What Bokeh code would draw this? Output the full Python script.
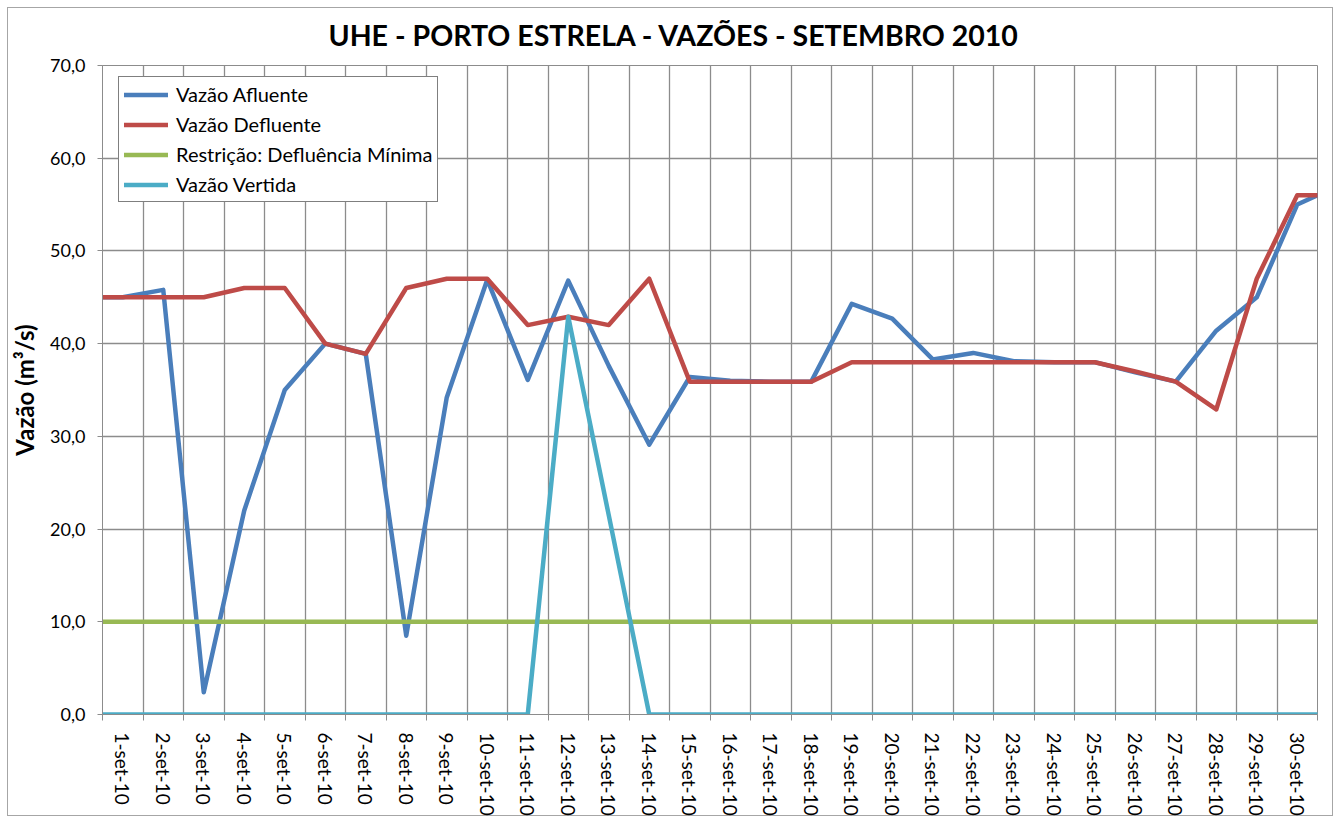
from bokeh.plotting import figure
from bokeh.models import Range1d, FixedTicker, Legend, LegendItem
from bokeh.embed import file_html
from bokeh.resources import INLINE

# ---- data ----
dias = ["1-set-10", "2-set-10", "3-set-10", "4-set-10", "5-set-10", "6-set-10",
        "7-set-10", "8-set-10", "9-set-10", "10-set-10", "11-set-10", "12-set-10",
        "13-set-10", "14-set-10", "15-set-10", "16-set-10", "17-set-10", "18-set-10",
        "19-set-10", "20-set-10", "21-set-10", "22-set-10", "23-set-10", "24-set-10",
        "25-set-10", "26-set-10", "27-set-10", "28-set-10", "29-set-10", "30-set-10"]

vazao_afluente = [45.0, 45.8, 2.4, 22.0, 35.0, 40.0, 38.9, 8.5, 34.2, 46.9,
                  36.1, 46.8, 37.6, 29.1, 36.4, 36.0, 35.9, 35.9, 44.3, 42.7,
                  38.3, 39.0, 38.1, 38.0, 38.0, 36.9, 35.9, 41.4, 45.0, 55.0]
vazao_defluente = [45.0, 45.0, 45.0, 46.0, 46.0, 40.0, 38.9, 46.0, 47.0, 47.0,
                   42.0, 42.9, 42.0, 47.0, 35.9, 35.9, 35.9, 35.9, 38.0, 38.0,
                   38.0, 38.0, 38.0, 38.0, 38.0, 37.0, 35.9, 32.9, 47.0, 56.0]
defluencia_minima = [10.0] * 30
vazao_vertida = [0.0, 0.0, 0.0, 0.0, 0.0, 0.0, 0.0, 0.0, 0.0, 0.0,
                 0.0, 42.9, 21.5, 0.0, 0.0, 0.0, 0.0, 0.0, 0.0, 0.0,
                 0.0, 0.0, 0.0, 0.0, 0.0, 0.0, 0.0, 0.0, 0.0, 0.0]

# values where each line meets the left / right edge of the plot area
bordas_afluente = [45.0, 56.0]
bordas_defluente = [45.0, 56.0]
bordas_minima = [10.0, 10.0]
bordas_vertida = [0.0, 0.0]

y_ticks = [0, 10, 20, 30, 40, 50, 60, 70]

FONT = "Lato"
GRID = "#8c8c8c"

n = len(dias)
centros = [i + 0.5 for i in range(n)]
limites = list(range(n + 1))
x_full = [0] + centros + [n]

W, H = 1340, 823
p = figure(width=W, height=H, output_backend="svg", toolbar_location=None,
           x_range=Range1d(0, n), y_range=Range1d(0, 70),
           min_border_left=102, min_border_right=23, min_border_top=65,
           min_border_bottom=109)

# outer chart border (drawn 8px inside the figure box, seen through the
# transparent border area of the canvas)
p.border_fill_alpha = 0
p.background_fill_color = "#ffffff"
p.styles = {"outline": "1px solid #a6a6a6", "outline-offset": "-8px",
            "background-color": "#ffffff"}

p.title.text = "UHE - PORTO ESTRELA - VAZÕES - SETEMBRO 2010"
p.title.text_font = FONT
p.title.text_font_size = "28.5px"
p.title.text_font_style = "bold"
p.title.text_color = "#000000"
p.title.align = "left"
p.title.offset = 226
p.title.standoff = 28

p.outline_line_color = GRID

# grids
p.xgrid.ticker = FixedTicker(ticks=limites)
p.ygrid.ticker = FixedTicker(ticks=y_ticks)
for g in (p.xgrid, p.ygrid):
    g.grid_line_color = GRID
    g.grid_line_width = 1.3

# x axis
xa = p.xaxis[0]
xa.ticker = FixedTicker(ticks=centros, minor_ticks=limites)
xa.major_label_overrides = {c: d for c, d in zip(centros, dias)}
xa.major_label_orientation = -1.5707963267948966
xa.major_tick_line_color = None
xa.major_tick_out = 0
xa.major_tick_in = 0
xa.minor_tick_line_color = GRID
xa.minor_tick_out = 6
xa.minor_tick_in = 0
xa.major_label_standoff = 12
xa.major_label_text_font = FONT
xa.major_label_text_font_size = "19px"
xa.major_label_text_color = "#000000"
xa.axis_line_color = GRID

# y axis
ya = p.yaxis[0]
ya.ticker = FixedTicker(ticks=y_ticks)
ya.major_label_overrides = {t: f"{t:.1f}".replace(".", ",") for t in y_ticks}
ya.major_tick_line_color = GRID
ya.major_tick_out = 5
ya.major_tick_in = 0
ya.minor_tick_line_color = None
ya.major_label_standoff = 12
ya.major_label_text_font = FONT
ya.major_label_text_font_size = "18px"
ya.major_label_text_color = "#000000"
ya.axis_line_color = GRID
ya.axis_label = "Vazão (m³/s)"
ya.axis_label_text_font = FONT
ya.axis_label_text_font_size = "24px"
ya.axis_label_text_font_style = "bold"
ya.axis_label_text_color = "#000000"
ya.axis_label_standoff = 8

series = [
    ("Vazão Afluente", vazao_afluente, bordas_afluente, "#4a7ebb"),
    ("Vazão Defluente", vazao_defluente, bordas_defluente, "#be4b48"),
    ("Restrição: Defluência Mínima", defluencia_minima, bordas_minima, "#98b954"),
    ("Vazão Vertida", vazao_vertida, bordas_vertida, "#4bacc6"),
]

items = []
for nome, vals, bordas, cor in series:
    y_full = [bordas[0]] + vals + [bordas[1]]
    r = p.line(x_full, y_full, line_color=cor, line_width=4.5, line_join="round",
               line_cap="round")
    items.append(LegendItem(label=nome, renderers=[r]))

legend = Legend(items=items, location=(16, 512))
legend.label_text_font = FONT
legend.label_text_font_size = "20px"
legend.label_text_color = "#000000"
legend.border_line_color = "#000000"
legend.border_line_width = 1
legend.padding = 5
legend.spacing = 6
legend.glyph_height = 23
legend.label_height = 23
legend.glyph_width = 44
legend.label_standoff = 8
legend.margin = 0
legend.background_fill_color = "#ffffff"
legend.background_fill_alpha = 1
p.add_layout(legend)

open("out.html", "w").write(file_html(p, INLINE))
